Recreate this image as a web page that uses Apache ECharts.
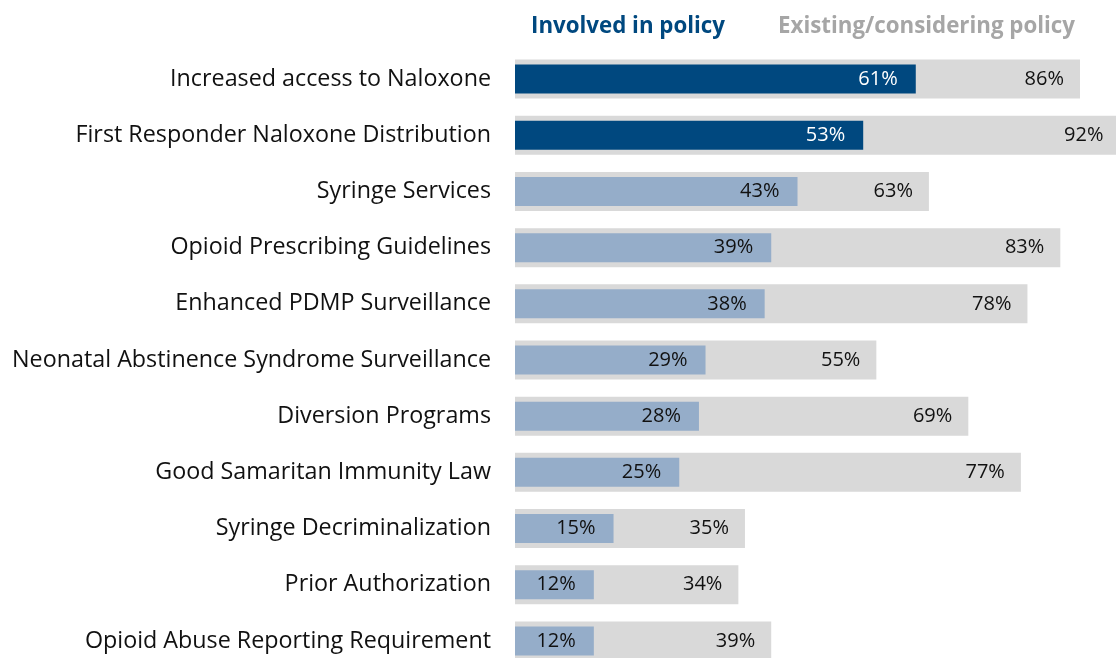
<!DOCTYPE html>
<html>
<head>
<meta charset="utf-8">
<script src="https://cdn.jsdelivr.net/npm/echarts@6/dist/echarts.min.js"></script>
<style>
html, body { margin: 0; padding: 0; background: #fff; }
#main { width: 1116px; height: 658px; }
</style>
</head>
<body>
<div id="main"></div>
<script>
//===============数据=================
var categories = [
    'Increased access to Naloxone',
    'First Responder Naloxone Distribution',
    'Syringe Services',
    'Opioid Prescribing Guidelines',
    'Enhanced PDMP Surveillance',
    'Neonatal Abstinence Syndrome Surveillance',
    'Diversion Programs',
    'Good Samaritan Immunity Law',
    'Syringe Decriminalization',
    'Prior Authorization',
    'Opioid Abuse Reporting Requirement'
];
var involved = [61, 53, 43, 39, 38, 29, 28, 25, 15, 12, 12];
var existing = [86, 92, 63, 83, 78, 55, 69, 77, 35, 34, 39];
var highlightCount = 2; // 前两项深色
var seriesNames = ['Involved in policy', 'Existing/considering policy'];

var darkBlue = '#00487f';
var lightBlue = '#95adc9';
var gray = '#d9d9d9';
var fontName = '"Open Sans", sans-serif';

var involvedData = [];
for (var i = 0; i < involved.length; i++) {
    var dark = i < highlightCount;
    involvedData.push({
        value: involved[i],
        itemStyle: { color: dark ? darkBlue : lightBlue },
        label: { color: dark ? '#ffffff' : '#111111' }
    });
}

var myChart = echarts.init(document.getElementById('main'));
var option = {
    animation: false,
    title: [{
        text: seriesNames[0],
        left: 526,
        top: 11,
        textStyle: { color: darkBlue, fontSize: 22.3, fontWeight: 'bold', fontFamily: fontName }
    }, {
        text: seriesNames[1],
        left: 773,
        top: 11,
        textStyle: { color: '#a6a6a6', fontSize: 22.3, fontWeight: 'bold', fontFamily: fontName }
    }],
    grid: {
        left: 515,
        top: 51,
        width: 657,
        height: 618,
        outerBoundsMode: 'none'
    },
    xAxis: {
        type: 'value',
        min: 0,
        max: 100,
        show: false
    },
    yAxis: [{
        type: 'category',
        data: categories,
        inverse: true,
        axisLine: { show: false },
        axisTick: { show: false },
        axisLabel: {
            margin: 24,
            color: '#111111',
            fontSize: 23.3,
            fontFamily: fontName
        }
    }, {
        type: 'category',
        data: categories,
        inverse: true,
        show: false
    }],
    series: [{
        name: seriesNames[1],
        type: 'bar',
        yAxisIndex: 0,
        barWidth: 39,
        data: existing,
        itemStyle: { color: gray },
        label: {
            show: true,
            position: 'insideRight',
            distance: 16,
            formatter: '{c}%',
            color: '#111111',
            fontSize: 20,
            fontFamily: fontName
        }
    }, {
        name: seriesNames[0],
        type: 'bar',
        yAxisIndex: 1,
        barWidth: 29,
        data: involvedData,
        label: {
            show: true,
            position: 'insideRight',
            distance: 18,
            formatter: '{c}%',
            fontSize: 20,
            fontFamily: fontName
        }
    }]
};
myChart.setOption(option);
</script>
</body>
</html>
